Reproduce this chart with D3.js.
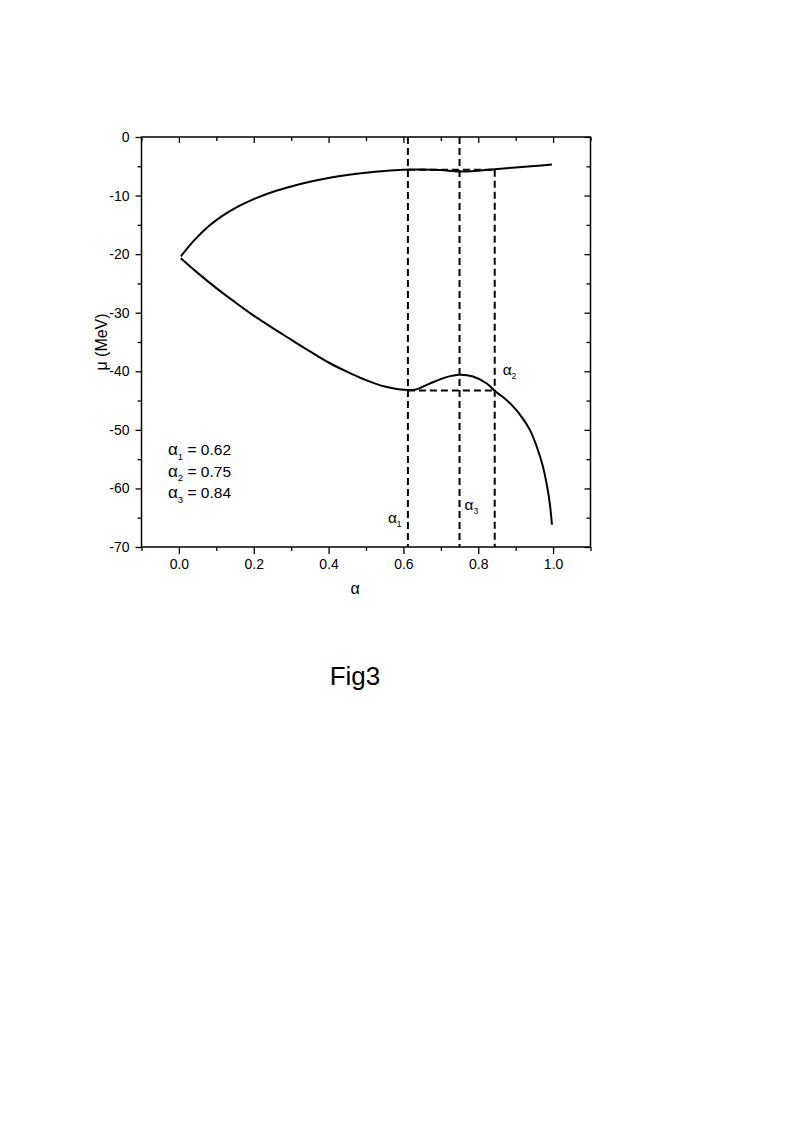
<!DOCTYPE html>
<html>
<head>
<meta charset="utf-8">
<script src="https://cdn.jsdelivr.net/npm/d3@7"></script>
<style>
  html, body { margin: 0; padding: 0; background: #fff; }
  svg { display: block; }
  text { font-family: "Liberation Sans", Arial, sans-serif; fill: #000; }
</style>
</head>
<body>
<svg id="chart" width="793" height="1134"></svg>
<script>
// ---- Data ----
const upperAlpha = [0.005,0.04,0.08,0.12,0.16,0.2,0.25,0.3,0.35,0.4,0.45,0.5,0.55,0.6,0.65,0.7,0.75,0.8,0.844,0.9,0.95,0.997];
const upperMu    = [-20.4,-17.7,-15.2,-13.3,-11.8,-10.6,-9.4,-8.45,-7.65,-7.0,-6.5,-6.1,-5.8,-5.6,-5.55,-5.65,-5.9,-5.75,-5.5,-5.2,-4.95,-4.7];
const lowerAlpha = [0.005,0.05,0.1,0.15,0.2,0.25,0.3,0.35,0.4,0.45,0.5,0.55,0.6,0.63,0.67,0.715,0.75,0.786,0.822,0.847,0.87,0.893,0.915,0.938,0.956,0.973,0.985,0.992,0.997];
const lowerMu    = [-20.7,-23.2,-25.8,-28.2,-30.5,-32.6,-34.6,-36.6,-38.5,-40.1,-41.5,-42.6,-43.15,-43.15,-42.1,-41.0,-40.6,-40.9,-42.05,-43.5,-44.6,-46.0,-47.7,-50.0,-52.8,-56.3,-60.0,-63.0,-66.2];
const alphaMarks = [0.612, 0.75, 0.844];     // vertical dashed lines
const upperLevel = -5.6;                     // dashed level on upper branch
const lowerLevel = -43.3;                    // dashed level on lower branch
const xTicks = [0.0,0.2,0.4,0.6,0.8,1.0];
const xMinor = [-0.1,0.1,0.3,0.5,0.7,0.9,1.1];
const yTicks = [0,-10,-20,-30,-40,-50,-60,-70];
const yMinor = [-5,-15,-25,-35,-45,-55,-65];
const legendLines = [["1","0.62"],["2","0.75"],["3","0.84"]];

// ---- Layout ----
const svg = d3.select("#chart");
const L = 141.5, R = 590.5, T = 137, B = 547;
const x = d3.scaleLinear().domain([-0.1, 1.1]).range([L, R]);
const y = d3.scaleLinear().domain([-70, 0]).range([B, T]);
const hyph = f => d => f(d).replace("\u2212", "-");

const g = svg.append("g");

// frame
g.append("rect").attr("x", L).attr("y", T).attr("width", R - L).attr("height", B - T)
  .attr("fill", "none").attr("stroke", "#000").attr("stroke-width", 1.5);

// bottom axis (outward ticks)
g.append("g").attr("class", "ax").attr("transform", `translate(0,${B})`)
  .call(d3.axisBottom(x).tickValues(xTicks).tickFormat(d3.format(".1f")).tickSize(7).tickPadding(5));
g.append("g").attr("transform", `translate(0,${B})`)
  .call(d3.axisBottom(x).tickValues(xMinor).tickFormat("").tickSize(4));
// left axis (outward ticks)
g.append("g").attr("class", "ax").attr("transform", `translate(${L},0)`)
  .call(d3.axisLeft(y).tickValues(yTicks).tickFormat(hyph(d3.format("d"))).tickSize(6).tickPadding(6));
g.append("g").attr("transform", `translate(${L},0)`)
  .call(d3.axisLeft(y).tickValues(yMinor).tickFormat("").tickSize(4));
// top axis (inward ticks)
g.append("g").attr("transform", `translate(0,${T})`)
  .call(d3.axisBottom(x).tickValues(xTicks).tickFormat("").tickSize(6));
g.append("g").attr("transform", `translate(0,${T})`)
  .call(d3.axisBottom(x).tickValues(xMinor).tickFormat("").tickSize(4));
// right axis (inward ticks)
g.append("g").attr("transform", `translate(${R},0)`)
  .call(d3.axisLeft(y).tickValues(yTicks).tickFormat("").tickSize(6));
g.append("g").attr("transform", `translate(${R},0)`)
  .call(d3.axisLeft(y).tickValues(yMinor).tickFormat("").tickSize(4));

g.selectAll(".domain").remove();
g.selectAll(".tick line").attr("stroke", "#000").attr("stroke-width", 1.3);
g.selectAll(".ax").attr("font-size", null).attr("font-family", null);
g.selectAll(".tick text").style("font-size", "14px").style("font-family", "'Liberation Sans', Arial, sans-serif").attr("fill", "#000");

// curves
const line = d3.line().x(d => x(d[0])).y(d => y(d[1])).curve(d3.curveCatmullRom.alpha(0.5));
const upper = upperAlpha.map((a, i) => [a, upperMu[i]]);
const lower = lowerAlpha.map((a, i) => [a, lowerMu[i]]);
g.append("path").datum(upper).attr("d", line).attr("fill", "none").attr("stroke", "#000").attr("stroke-width", 2);
g.append("path").datum(lower).attr("d", line).attr("fill", "none").attr("stroke", "#000").attr("stroke-width", 2);

// dashed construction lines
const dash = "7,4";
function dashed(x1, y1, x2, y2) {
  g.append("line").attr("x1", x(x1)).attr("y1", y(y1)).attr("x2", x(x2)).attr("y2", y(y2))
    .attr("stroke", "#000").attr("stroke-width", 2).attr("stroke-dasharray", dash);
}
dashed(alphaMarks[0], 0, alphaMarks[0], -70);
dashed(alphaMarks[1], 0, alphaMarks[1], -70);
dashed(alphaMarks[2], upperLevel, alphaMarks[2], -70);
dashed(alphaMarks[0], lowerLevel, alphaMarks[2], lowerLevel);
dashed(alphaMarks[0], upperLevel, alphaMarks[2], upperLevel);

// alpha labels with subscripts
function alphaLabel(px, py, sub, rest, fs) {
  const t = g.append("text").attr("x", px).attr("y", py).style("font-size", fs + "px");
  t.append("tspan").style("font-size", (fs * 1.1) + "px").text("α");
  t.append("tspan").attr("dy", fs * 0.3).style("font-size", (fs * 0.62) + "px").text(sub);
  if (rest) t.append("tspan").attr("dy", -fs * 0.3).text(" " + rest);
}
alphaLabel(x(alphaMarks[0]) - 20, y(-65.9), "1", null, 14);
alphaLabel(x(alphaMarks[1]) + 5, y(-63.7), "3", null, 14);
alphaLabel(x(alphaMarks[2]) + 8, y(-40.6), "2", null, 14);
legendLines.forEach((d, i) => alphaLabel(168, 455 + i * 21.7, d[0], "= " + d[1], 15.5));

// axis titles
svg.append("text").attr("x", 355).attr("y", 594).attr("text-anchor", "middle")
  .style("font-size", "16px").text("α");
svg.append("text").attr("transform", `translate(107,${(T + B) / 2}) rotate(-90)`)
  .attr("text-anchor", "middle").style("font-size", "16px").text("μ (MeV)");

// figure caption
svg.append("text").attr("x", 355).attr("y", 685).attr("text-anchor", "middle")
  .style("font-size", "26px").text("Fig3");
</script>
</body>
</html>
